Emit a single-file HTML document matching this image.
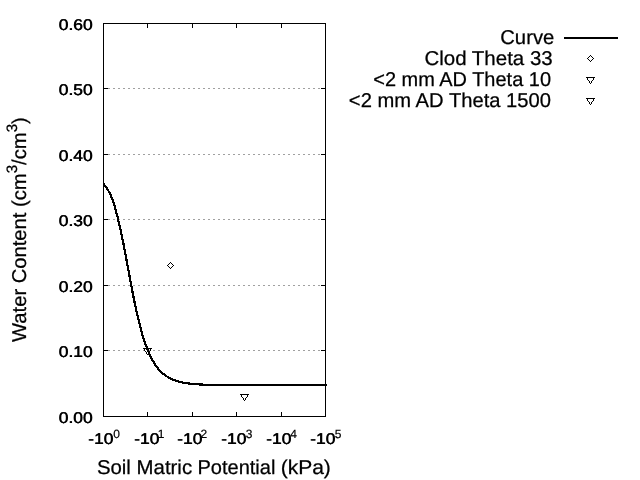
<!DOCTYPE html>
<html><head><meta charset="utf-8"><title>Water retention curve</title>
<style>
html,body{margin:0;padding:0;background:#fff;}
body{width:640px;height:480px;overflow:hidden;}
svg{display:block;will-change:transform;}
text{font-family:"Liberation Sans",sans-serif;fill:#000;stroke:#000;text-rendering:geometricPrecision;}
.t{font-size:15.5px;stroke-width:0.1px;}
.s{font-size:12px;stroke-width:0.2px;}
.l{font-size:20px;stroke-width:0.25px;}
.ls{font-size:15px;}
</style></head><body>
<svg width="640" height="480" viewBox="0 0 640 480">
<rect width="640" height="480" fill="#fff"/>
<g fill="#a0a0a0" shape-rendering="crispEdges"><rect x="108" y="88" width="2" height="1"/><rect x="113" y="88" width="2" height="1"/><rect x="118" y="88" width="2" height="1"/><rect x="123" y="88" width="2" height="1"/><rect x="128" y="88" width="2" height="1"/><rect x="133" y="88" width="2" height="1"/><rect x="138" y="88" width="2" height="1"/><rect x="143" y="88" width="2" height="1"/><rect x="148" y="88" width="2" height="1"/><rect x="153" y="88" width="2" height="1"/><rect x="158" y="88" width="2" height="1"/><rect x="163" y="88" width="2" height="1"/><rect x="168" y="88" width="2" height="1"/><rect x="173" y="88" width="2" height="1"/><rect x="178" y="88" width="2" height="1"/><rect x="183" y="88" width="2" height="1"/><rect x="188" y="88" width="2" height="1"/><rect x="193" y="88" width="2" height="1"/><rect x="198" y="88" width="2" height="1"/><rect x="203" y="88" width="2" height="1"/><rect x="208" y="88" width="2" height="1"/><rect x="213" y="88" width="2" height="1"/><rect x="218" y="88" width="2" height="1"/><rect x="223" y="88" width="2" height="1"/><rect x="228" y="88" width="2" height="1"/><rect x="233" y="88" width="2" height="1"/><rect x="238" y="88" width="2" height="1"/><rect x="243" y="88" width="2" height="1"/><rect x="248" y="88" width="2" height="1"/><rect x="253" y="88" width="2" height="1"/><rect x="258" y="88" width="2" height="1"/><rect x="263" y="88" width="2" height="1"/><rect x="268" y="88" width="2" height="1"/><rect x="273" y="88" width="2" height="1"/><rect x="278" y="88" width="2" height="1"/><rect x="283" y="88" width="2" height="1"/><rect x="288" y="88" width="2" height="1"/><rect x="293" y="88" width="2" height="1"/><rect x="298" y="88" width="2" height="1"/><rect x="303" y="88" width="2" height="1"/><rect x="308" y="88" width="2" height="1"/><rect x="313" y="88" width="2" height="1"/><rect x="318" y="88" width="2" height="1"/><rect x="108" y="154" width="2" height="1"/><rect x="113" y="154" width="2" height="1"/><rect x="118" y="154" width="2" height="1"/><rect x="123" y="154" width="2" height="1"/><rect x="128" y="154" width="2" height="1"/><rect x="133" y="154" width="2" height="1"/><rect x="138" y="154" width="2" height="1"/><rect x="143" y="154" width="2" height="1"/><rect x="148" y="154" width="2" height="1"/><rect x="153" y="154" width="2" height="1"/><rect x="158" y="154" width="2" height="1"/><rect x="163" y="154" width="2" height="1"/><rect x="168" y="154" width="2" height="1"/><rect x="173" y="154" width="2" height="1"/><rect x="178" y="154" width="2" height="1"/><rect x="183" y="154" width="2" height="1"/><rect x="188" y="154" width="2" height="1"/><rect x="193" y="154" width="2" height="1"/><rect x="198" y="154" width="2" height="1"/><rect x="203" y="154" width="2" height="1"/><rect x="208" y="154" width="2" height="1"/><rect x="213" y="154" width="2" height="1"/><rect x="218" y="154" width="2" height="1"/><rect x="223" y="154" width="2" height="1"/><rect x="228" y="154" width="2" height="1"/><rect x="233" y="154" width="2" height="1"/><rect x="238" y="154" width="2" height="1"/><rect x="243" y="154" width="2" height="1"/><rect x="248" y="154" width="2" height="1"/><rect x="253" y="154" width="2" height="1"/><rect x="258" y="154" width="2" height="1"/><rect x="263" y="154" width="2" height="1"/><rect x="268" y="154" width="2" height="1"/><rect x="273" y="154" width="2" height="1"/><rect x="278" y="154" width="2" height="1"/><rect x="283" y="154" width="2" height="1"/><rect x="288" y="154" width="2" height="1"/><rect x="293" y="154" width="2" height="1"/><rect x="298" y="154" width="2" height="1"/><rect x="303" y="154" width="2" height="1"/><rect x="308" y="154" width="2" height="1"/><rect x="313" y="154" width="2" height="1"/><rect x="318" y="154" width="2" height="1"/><rect x="108" y="219" width="2" height="1"/><rect x="113" y="219" width="2" height="1"/><rect x="118" y="219" width="2" height="1"/><rect x="123" y="219" width="2" height="1"/><rect x="128" y="219" width="2" height="1"/><rect x="133" y="219" width="2" height="1"/><rect x="138" y="219" width="2" height="1"/><rect x="143" y="219" width="2" height="1"/><rect x="148" y="219" width="2" height="1"/><rect x="153" y="219" width="2" height="1"/><rect x="158" y="219" width="2" height="1"/><rect x="163" y="219" width="2" height="1"/><rect x="168" y="219" width="2" height="1"/><rect x="173" y="219" width="2" height="1"/><rect x="178" y="219" width="2" height="1"/><rect x="183" y="219" width="2" height="1"/><rect x="188" y="219" width="2" height="1"/><rect x="193" y="219" width="2" height="1"/><rect x="198" y="219" width="2" height="1"/><rect x="203" y="219" width="2" height="1"/><rect x="208" y="219" width="2" height="1"/><rect x="213" y="219" width="2" height="1"/><rect x="218" y="219" width="2" height="1"/><rect x="223" y="219" width="2" height="1"/><rect x="228" y="219" width="2" height="1"/><rect x="233" y="219" width="2" height="1"/><rect x="238" y="219" width="2" height="1"/><rect x="243" y="219" width="2" height="1"/><rect x="248" y="219" width="2" height="1"/><rect x="253" y="219" width="2" height="1"/><rect x="258" y="219" width="2" height="1"/><rect x="263" y="219" width="2" height="1"/><rect x="268" y="219" width="2" height="1"/><rect x="273" y="219" width="2" height="1"/><rect x="278" y="219" width="2" height="1"/><rect x="283" y="219" width="2" height="1"/><rect x="288" y="219" width="2" height="1"/><rect x="293" y="219" width="2" height="1"/><rect x="298" y="219" width="2" height="1"/><rect x="303" y="219" width="2" height="1"/><rect x="308" y="219" width="2" height="1"/><rect x="313" y="219" width="2" height="1"/><rect x="318" y="219" width="2" height="1"/><rect x="108" y="285" width="2" height="1"/><rect x="113" y="285" width="2" height="1"/><rect x="118" y="285" width="2" height="1"/><rect x="123" y="285" width="2" height="1"/><rect x="128" y="285" width="2" height="1"/><rect x="133" y="285" width="2" height="1"/><rect x="138" y="285" width="2" height="1"/><rect x="143" y="285" width="2" height="1"/><rect x="148" y="285" width="2" height="1"/><rect x="153" y="285" width="2" height="1"/><rect x="158" y="285" width="2" height="1"/><rect x="163" y="285" width="2" height="1"/><rect x="168" y="285" width="2" height="1"/><rect x="173" y="285" width="2" height="1"/><rect x="178" y="285" width="2" height="1"/><rect x="183" y="285" width="2" height="1"/><rect x="188" y="285" width="2" height="1"/><rect x="193" y="285" width="2" height="1"/><rect x="198" y="285" width="2" height="1"/><rect x="203" y="285" width="2" height="1"/><rect x="208" y="285" width="2" height="1"/><rect x="213" y="285" width="2" height="1"/><rect x="218" y="285" width="2" height="1"/><rect x="223" y="285" width="2" height="1"/><rect x="228" y="285" width="2" height="1"/><rect x="233" y="285" width="2" height="1"/><rect x="238" y="285" width="2" height="1"/><rect x="243" y="285" width="2" height="1"/><rect x="248" y="285" width="2" height="1"/><rect x="253" y="285" width="2" height="1"/><rect x="258" y="285" width="2" height="1"/><rect x="263" y="285" width="2" height="1"/><rect x="268" y="285" width="2" height="1"/><rect x="273" y="285" width="2" height="1"/><rect x="278" y="285" width="2" height="1"/><rect x="283" y="285" width="2" height="1"/><rect x="288" y="285" width="2" height="1"/><rect x="293" y="285" width="2" height="1"/><rect x="298" y="285" width="2" height="1"/><rect x="303" y="285" width="2" height="1"/><rect x="308" y="285" width="2" height="1"/><rect x="313" y="285" width="2" height="1"/><rect x="318" y="285" width="2" height="1"/><rect x="108" y="350" width="2" height="1"/><rect x="113" y="350" width="2" height="1"/><rect x="118" y="350" width="2" height="1"/><rect x="123" y="350" width="2" height="1"/><rect x="128" y="350" width="2" height="1"/><rect x="133" y="350" width="2" height="1"/><rect x="138" y="350" width="2" height="1"/><rect x="143" y="350" width="2" height="1"/><rect x="148" y="350" width="2" height="1"/><rect x="153" y="350" width="2" height="1"/><rect x="158" y="350" width="2" height="1"/><rect x="163" y="350" width="2" height="1"/><rect x="168" y="350" width="2" height="1"/><rect x="173" y="350" width="2" height="1"/><rect x="178" y="350" width="2" height="1"/><rect x="183" y="350" width="2" height="1"/><rect x="188" y="350" width="2" height="1"/><rect x="193" y="350" width="2" height="1"/><rect x="198" y="350" width="2" height="1"/><rect x="203" y="350" width="2" height="1"/><rect x="208" y="350" width="2" height="1"/><rect x="213" y="350" width="2" height="1"/><rect x="218" y="350" width="2" height="1"/><rect x="223" y="350" width="2" height="1"/><rect x="228" y="350" width="2" height="1"/><rect x="233" y="350" width="2" height="1"/><rect x="238" y="350" width="2" height="1"/><rect x="243" y="350" width="2" height="1"/><rect x="248" y="350" width="2" height="1"/><rect x="253" y="350" width="2" height="1"/><rect x="258" y="350" width="2" height="1"/><rect x="263" y="350" width="2" height="1"/><rect x="268" y="350" width="2" height="1"/><rect x="273" y="350" width="2" height="1"/><rect x="278" y="350" width="2" height="1"/><rect x="283" y="350" width="2" height="1"/><rect x="288" y="350" width="2" height="1"/><rect x="293" y="350" width="2" height="1"/><rect x="298" y="350" width="2" height="1"/><rect x="303" y="350" width="2" height="1"/><rect x="308" y="350" width="2" height="1"/><rect x="313" y="350" width="2" height="1"/><rect x="318" y="350" width="2" height="1"/></g>
<g fill="#000" shape-rendering="crispEdges"><rect x="104" y="88" width="4" height="1"/><rect x="321" y="88" width="4" height="1"/><rect x="104" y="154" width="4" height="1"/><rect x="321" y="154" width="4" height="1"/><rect x="104" y="219" width="4" height="1"/><rect x="321" y="219" width="4" height="1"/><rect x="104" y="285" width="4" height="1"/><rect x="321" y="285" width="4" height="1"/><rect x="104" y="350" width="4" height="1"/><rect x="321" y="350" width="4" height="1"/><rect x="147" y="24" width="1" height="4"/><rect x="147" y="412" width="1" height="4"/><rect x="192" y="24" width="1" height="4"/><rect x="192" y="412" width="1" height="4"/><rect x="236" y="24" width="1" height="4"/><rect x="236" y="412" width="1" height="4"/><rect x="281" y="24" width="1" height="4"/><rect x="281" y="412" width="1" height="4"/></g>
<rect x="103.5" y="23.5" width="222" height="393" fill="none" stroke="#000" stroke-width="1" shape-rendering="crispEdges"/>
<polyline points="103.5,183.65 105.7,186.61 108.0,190.09 110.2,194.09 112.4,199.49 114.7,206.51 116.9,214.46 119.1,223.38 121.3,233.41 123.6,244.39 125.8,256.07 128.0,268.11 130.3,280.15 132.5,291.87 134.7,303.00 136.9,313.34 139.2,322.77 141.4,331.24 143.6,338.75 145.9,345.34 148.1,351.09 150.3,356.07 152.6,360.36 154.8,364.04 157.0,367.20 159.2,369.89 161.5,372.19 163.7,374.15 165.9,375.82 168.2,377.24 170.4,378.44 172.6,379.47 174.9,380.34 177.1,381.08 179.3,381.71 181.6,382.24 183.8,382.69 186.0,383.07 188.2,383.40 190.5,383.68 192.7,383.91 194.9,384.11 197.2,384.28 199.4,384.42 201.6,384.54 203.8,384.65 206.1,384.74 208.3,384.81 210.5,384.87 212.8,384.93 215.0,384.97 217.2,385.01 219.5,385.04 221.7,385.07 223.9,385.09 226.2,385.11 228.4,385.13 230.6,385.15 232.8,385.16 235.1,385.17 237.3,385.18 239.5,385.18 241.8,385.19 244.0,385.20 246.2,385.20 248.4,385.20 250.7,385.21 252.9,385.21 255.1,385.21 257.4,385.22 259.6,385.22 261.8,385.22 264.1,385.22 266.3,385.22 268.5,385.22 270.8,385.22 273.0,385.22 275.2,385.22 277.4,385.22 279.7,385.22 281.9,385.22 284.1,385.23 286.4,385.23 288.6,385.23 290.8,385.23 293.1,385.23 295.3,385.23 297.5,385.23 299.7,385.23 302.0,385.23 304.2,385.23 306.4,385.23 308.7,385.23 310.9,385.23 313.1,385.23 315.4,385.23 317.6,385.23 319.8,385.23 322.0,385.23 324.3,385.23 326.5,385.23" fill="none" stroke="#000" stroke-width="2.2" stroke-linejoin="round" shape-rendering="crispEdges"/>
<g fill="#000" shape-rendering="crispEdges">
<rect x="167" y="265" width="1" height="1"/><rect x="168" y="264" width="1" height="1"/><rect x="169" y="263" width="1" height="1"/><rect x="170" y="262" width="1" height="1"/><rect x="171" y="263" width="1" height="1"/><rect x="172" y="264" width="1" height="1"/><rect x="173" y="265" width="1" height="1"/><rect x="172" y="266" width="1" height="1"/><rect x="171" y="267" width="1" height="1"/><rect x="170" y="268" width="1" height="1"/><rect x="169" y="267" width="1" height="1"/><rect x="168" y="266" width="1" height="1"/><rect x="143" y="348" width="9" height="1"/><rect x="144" y="349" width="1" height="1"/><rect x="150" y="349" width="1" height="1"/><rect x="144" y="350" width="1" height="1"/><rect x="150" y="350" width="1" height="1"/><rect x="145" y="351" width="1" height="1"/><rect x="149" y="351" width="1" height="1"/><rect x="146" y="352" width="1" height="1"/><rect x="148" y="352" width="1" height="1"/><rect x="146" y="353" width="1" height="1"/><rect x="148" y="353" width="1" height="1"/><rect x="147" y="354" width="1" height="1"/><rect x="240" y="394" width="9" height="1"/><rect x="241" y="395" width="1" height="1"/><rect x="247" y="395" width="1" height="1"/><rect x="241" y="396" width="1" height="1"/><rect x="247" y="396" width="1" height="1"/><rect x="242" y="397" width="1" height="1"/><rect x="246" y="397" width="1" height="1"/><rect x="243" y="398" width="1" height="1"/><rect x="245" y="398" width="1" height="1"/><rect x="243" y="399" width="1" height="1"/><rect x="245" y="399" width="1" height="1"/><rect x="244" y="400" width="1" height="1"/>
<rect x="564" y="37" width="54" height="2"/>
<rect x="587" y="58" width="1" height="1"/><rect x="588" y="57" width="1" height="1"/><rect x="589" y="56" width="1" height="1"/><rect x="590" y="55" width="1" height="1"/><rect x="591" y="56" width="1" height="1"/><rect x="592" y="57" width="1" height="1"/><rect x="593" y="58" width="1" height="1"/><rect x="592" y="59" width="1" height="1"/><rect x="591" y="60" width="1" height="1"/><rect x="590" y="61" width="1" height="1"/><rect x="589" y="60" width="1" height="1"/><rect x="588" y="59" width="1" height="1"/><rect x="586" y="77" width="9" height="1"/><rect x="587" y="78" width="1" height="1"/><rect x="593" y="78" width="1" height="1"/><rect x="587" y="79" width="1" height="1"/><rect x="593" y="79" width="1" height="1"/><rect x="588" y="80" width="1" height="1"/><rect x="592" y="80" width="1" height="1"/><rect x="589" y="81" width="1" height="1"/><rect x="591" y="81" width="1" height="1"/><rect x="589" y="82" width="1" height="1"/><rect x="591" y="82" width="1" height="1"/><rect x="590" y="83" width="1" height="1"/><rect x="586" y="98" width="9" height="1"/><rect x="587" y="99" width="1" height="1"/><rect x="593" y="99" width="1" height="1"/><rect x="587" y="100" width="1" height="1"/><rect x="593" y="100" width="1" height="1"/><rect x="588" y="101" width="1" height="1"/><rect x="592" y="101" width="1" height="1"/><rect x="589" y="102" width="1" height="1"/><rect x="591" y="102" width="1" height="1"/><rect x="589" y="103" width="1" height="1"/><rect x="591" y="103" width="1" height="1"/><rect x="590" y="104" width="1" height="1"/>
</g>
<text class="t" transform="translate(92.48,30.0) scale(1.123,1)" text-anchor="end">0.60</text>
<text class="t" transform="translate(92.92,30.0) scale(1.123,1)" text-anchor="end">0.60</text>
<text class="t" transform="translate(92.48,95.0) scale(1.123,1)" text-anchor="end">0.50</text>
<text class="t" transform="translate(92.92,95.0) scale(1.123,1)" text-anchor="end">0.50</text>
<text class="t" transform="translate(92.48,161.0) scale(1.123,1)" text-anchor="end">0.40</text>
<text class="t" transform="translate(92.92,161.0) scale(1.123,1)" text-anchor="end">0.40</text>
<text class="t" transform="translate(92.48,226.0) scale(1.123,1)" text-anchor="end">0.30</text>
<text class="t" transform="translate(92.92,226.0) scale(1.123,1)" text-anchor="end">0.30</text>
<text class="t" transform="translate(92.48,292.0) scale(1.123,1)" text-anchor="end">0.20</text>
<text class="t" transform="translate(92.92,292.0) scale(1.123,1)" text-anchor="end">0.20</text>
<text class="t" transform="translate(92.48,357.0) scale(1.123,1)" text-anchor="end">0.10</text>
<text class="t" transform="translate(92.92,357.0) scale(1.123,1)" text-anchor="end">0.10</text>
<text class="t" transform="translate(92.48,423.0) scale(1.123,1)" text-anchor="end">0.00</text>
<text class="t" transform="translate(92.92,423.0) scale(1.123,1)" text-anchor="end">0.00</text>

<text class="t" transform="translate(88.08,444.0) scale(1.123,1)">-10</text><text class="t" transform="translate(88.52,444.0) scale(1.123,1)">-10</text><text class="s" x="113.2" y="437.7">0</text>
<text class="t" transform="translate(133.98,444.0) scale(1.123,1)">-10</text><text class="t" transform="translate(134.42,444.0) scale(1.123,1)">-10</text><text class="s" x="157.7" y="437.7">1</text>
<text class="t" transform="translate(176.98,444.0) scale(1.123,1)">-10</text><text class="t" transform="translate(177.42,444.0) scale(1.123,1)">-10</text><text class="s" x="200.5" y="437.7">2</text>
<text class="t" transform="translate(220.98,444.0) scale(1.123,1)">-10</text><text class="t" transform="translate(221.42,444.0) scale(1.123,1)">-10</text><text class="s" x="245.7" y="437.7">3</text>
<text class="t" transform="translate(265.98,444.0) scale(1.123,1)">-10</text><text class="t" transform="translate(266.42,444.0) scale(1.123,1)">-10</text><text class="s" x="290.2" y="437.7">4</text>
<text class="t" transform="translate(309.98,444.0) scale(1.123,1)">-10</text><text class="t" transform="translate(310.42,444.0) scale(1.123,1)">-10</text><text class="s" x="334.8" y="437.7">5</text>

<text class="l" x="500.24" y="44" textLength="54.06" lengthAdjust="spacingAndGlyphs">Curve</text>
<text class="l" x="424.42" y="65" textLength="128.28" lengthAdjust="spacingAndGlyphs">Clod Theta 33</text>
<text class="l" x="373.24" y="86" textLength="177.76" lengthAdjust="spacingAndGlyphs">&lt;2 mm AD Theta 10</text>
<text class="l" x="348.89" y="107" textLength="202.11" lengthAdjust="spacingAndGlyphs">&lt;2 mm AD Theta 1500</text>

<text class="l" x="96.9" y="474" textLength="95.2" lengthAdjust="spacingAndGlyphs">Soil Matric</text>
<text class="l" x="197.45" y="474" textLength="77.97" lengthAdjust="spacingAndGlyphs">Potential</text>
<text class="l" x="280.65" y="474" textLength="50.25" lengthAdjust="spacingAndGlyphs">(kPa)</text>
<text class="l" transform="translate(26,342) rotate(-90)" textLength="224.8" lengthAdjust="spacingAndGlyphs">Water Content (cm<tspan class="ls" dy="-8.9">3</tspan><tspan dy="8.9">/cm</tspan><tspan class="ls" dy="-8.9">3</tspan><tspan dy="8.9">)</tspan></text>
</svg>
</body></html>
